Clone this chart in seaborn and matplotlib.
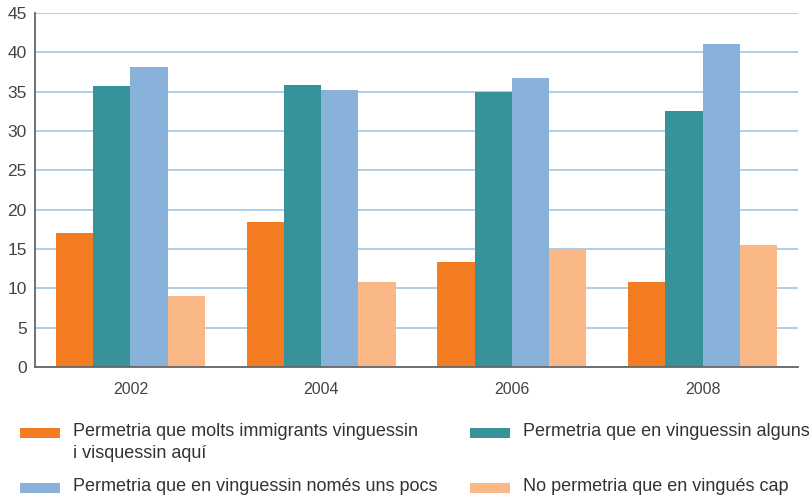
import matplotlib
matplotlib.use("Agg")
import matplotlib.pyplot as plt
from matplotlib.patches import Rectangle
import seaborn as sns
import pandas as pd

years = ["2002", "2004", "2006", "2008"]
series_labels = [
    "Permetria que molts immigrants vinguessin\ni visquessin aquí",
    "Permetria que en vinguessin alguns",
    "Permetria que en vinguessin només uns pocs",
    "No permetria que en vingués cap",
]
molts = [17.0, 18.4, 13.3, 10.8]
alguns = [35.7, 35.8, 34.9, 32.6]
pocs = [38.1, 35.2, 36.8, 41.0]
cap = [9.0, 10.8, 15.0, 15.5]
colors = ["#F37B21", "#37929A", "#88B2D9", "#F9B886"]
y_ticks = [0, 5, 10, 15, 20, 25, 30, 35, 40, 45]

rows = []
for lab, vals in zip(series_labels, [molts, alguns, pocs, cap]):
    for y, v in zip(years, vals):
        rows.append({"year": y, "serie": lab, "value": v})
df = pd.DataFrame(rows)

sns.set_style("white")
plt.rcParams["font.family"] = ["Liberation Sans", "DejaVu Sans"]

fig = plt.figure(figsize=(8.09, 5.0), dpi=100)
ax = fig.add_axes([35 / 809, 1 - 367 / 500, (798 - 35) / 809, (367 - 13) / 500])

sns.barplot(data=df, x="year", y="value", hue="serie", hue_order=series_labels,
            palette=colors, width=0.78, saturation=1, ax=ax, legend=False,
            edgecolor="none", linewidth=0)

ax.set_ylim(0, 45)
ax.set_xlim(-0.5, 3.5)
ax.set_yticks(y_ticks)
ax.set_yticklabels([str(t) for t in y_ticks], fontsize=12.5, color="#444444")
ax.yaxis.grid(True, color="#A3C6E4", linewidth=1.2)
ax.set_axisbelow(True)
ax.set_xlabel("")
ax.set_ylabel("")
ax.tick_params(axis="y", length=0, pad=6)
ax.tick_params(axis="x", which="major", length=0, labelsize=11.5, labelcolor="#444444", pad=11)
ax.set_xticks([0.5, 1.5, 2.5, 3.5], minor=True)
ax.tick_params(axis="x", which="minor", direction="in", length=6.5, width=1.0, color="#333333")
for s in ["top", "right"]:
    ax.spines[s].set_visible(False)
for s in ["left", "bottom"]:
    ax.spines[s].set_color("#666666")
    ax.spines[s].set_linewidth(1.3)

# Legend (manual layout, two columns)
legend_pos = [(20, 433), (470, 433), (20, 488), (470, 488)]
for (x, y), lab, col in zip(legend_pos, series_labels, colors):
    fig.add_artist(Rectangle((x / 809, 1 - (y + 5) / 500), 40 / 809, 10 / 500,
                             transform=fig.transFigure, facecolor=col, edgecolor="none"))
    fig.text((x + 53) / 809, 1 - (y - 10) / 500, lab, fontsize=13, color="#333333",
             va="top", ha="left", linespacing=1.42)

fig.savefig("out.png", dpi=100)
